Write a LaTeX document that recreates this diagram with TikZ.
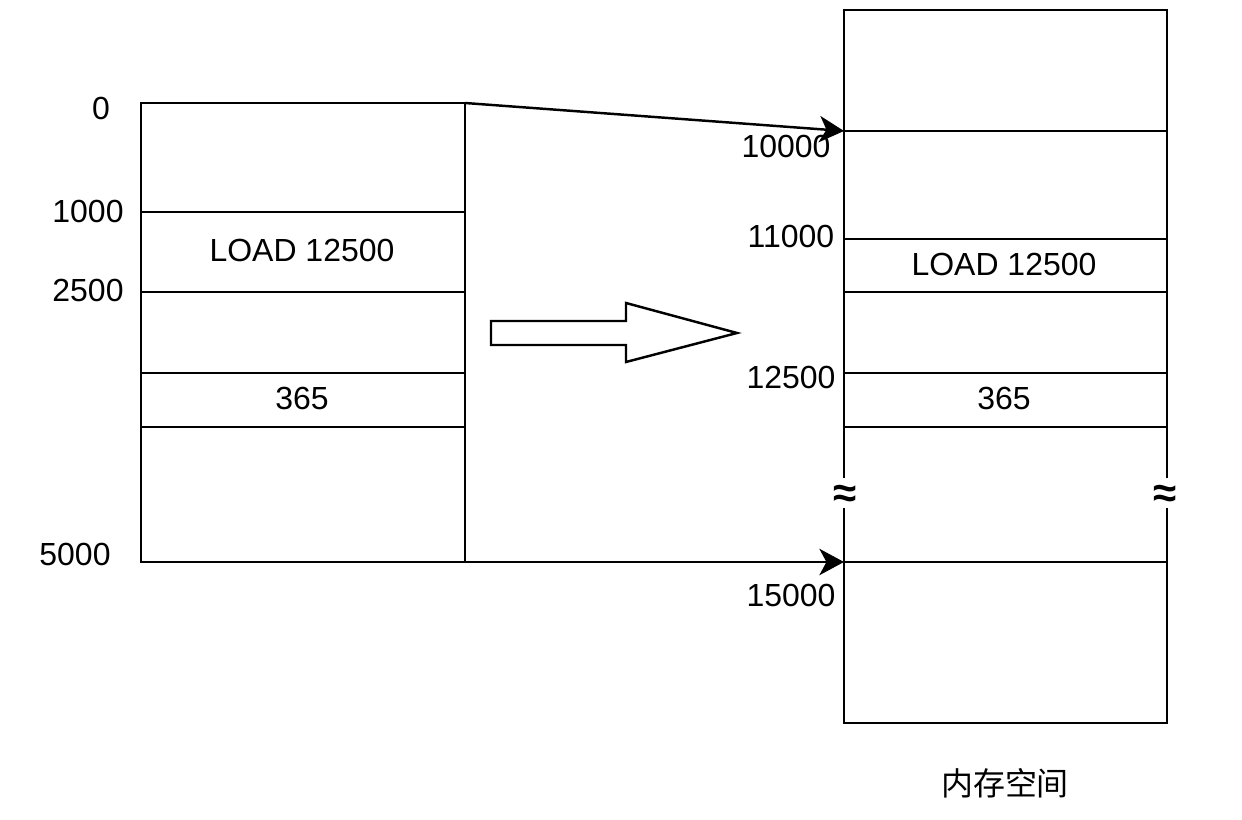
\documentclass[tikz,border=0pt]{standalone}
\usepackage{fontspec}
\setmainfont{Liberation Sans}
\newfontfamily\cjkfont{Noto Sans CJK SC}
\usetikzlibrary{arrows.meta}
\tikzset{
  mem/.style={line width=1.4pt},
  addr/.style={font=\fontsize{18.2}{21}\selectfont, inner sep=0pt},
  link/.style={line width=1.4pt, -{Stealth[length=14pt,width=15pt,inset=4pt]}},
  brk/.style={font=\fontsize{24}{28}\selectfont\bfseries, inner sep=0pt}
}
\begin{document}
\begin{tikzpicture}[x=0.02cm,y=-0.02cm]
		\useasboundingbox (0,0) rectangle (1242,820);

		\draw[mem] (141,103) rectangle (465,562);
		\draw[mem] (141,212)--(465,212) (141,292)--(465,292) (141,373)--(465,373) (141,427)--(465,427);
		\node[addr] (la0) at (101,108) {0};
		\node[addr] (la1000) at (88,211) {1000};
		\node[addr] (la2500) at (88,290) {2500};
		\node[addr] (la5000) at (75,554) {5000};
		\node[addr] (lload) at (302,250) {LOAD 12500};
		\node[addr] (ldata) at (302,398) {365};
		\coordinate (lfirst) at (465,103);
		\coordinate (llast) at (465,562);

		\draw[mem] (491,321)--(626,321)--(626,303)--(737,333)--(626,362)--(626,345)--(491,345)--cycle;

		\draw[mem] (844,478)--(844,10)--(1167,10)--(1167,478);
		\draw[mem] (844,508)--(844,723)--(1167,723)--(1167,508);
		\draw[mem] (844,131)--(1167,131) (844,239)--(1167,239) (844,292)--(1167,292) (844,373)--(1167,373) (844,427)--(1167,427) (844,562)--(1167,562);
		\node[brk] (rbrk) at (845,496) {≈};
		\node[brk] (rbrk2) at (1165,496) {≈};
		\node[addr] (ra10000) at (786,146) {10000};
		\node[addr] (ra11000) at (791,236) {11000};
		\node[addr] (ra12500) at (791,377) {12500};
		\node[addr] (ra15000) at (791,595) {15000};
		\node[addr] (rload) at (1004,264) {LOAD 12500};
		\node[addr] (rdata) at (1004,398) {365};
		\node[addr, font=\fontsize{18.2}{21}\selectfont\cjkfont] (title) at (1005,783) {内存空间};
		\coordinate (rfirst) at (844,131);
		\coordinate (rlast) at (844,562);

		\draw[link] (lfirst) -- (rfirst);
		\draw[link] (llast) -- (rlast);
	\end{tikzpicture}
\end{document}
